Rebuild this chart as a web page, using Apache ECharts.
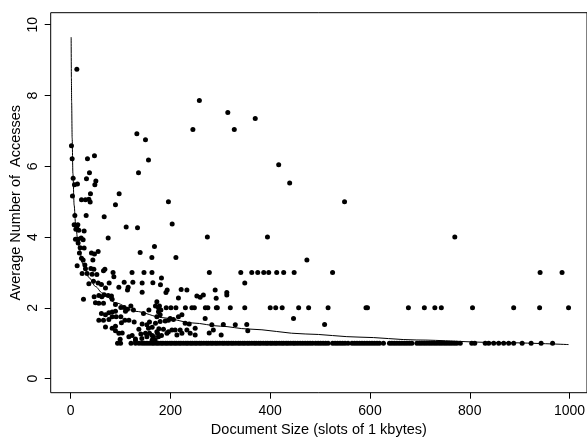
<!DOCTYPE html>
<html>
<head>
<meta charset="utf-8">
<script src="https://cdn.jsdelivr.net/npm/echarts@6/dist/echarts.min.js"></script>
<style>
html,body{margin:0;padding:0;background:#fff;}
#chart{width:587px;height:439px;}
</style>
</head>
<body>
<div id="chart"></div>
<script>
// Axis tick labels
const xTicks = [0, 200, 400, 600, 800, 1000];
const yTicks = [0, 2, 4, 6, 8, 10];

// Documents whose average number of accesses is exactly 1, 2, 3 (x = size)
const row1X = [94, 100, 121, 130, 137, 143, 148, 153, 158,
  163,167,172,176,181,185,190,194,199,203,208,212,217,221,226,231,235,240,244,249,253,258,262,267,272,276,281,285,290,294,299,304,308,313,317,322,326,331,336,340,345,349,354,358,363,368,372,377,381,386,391,395,400,404,409,413,418,423,427,432,436,441,446,450,455,460,
  465,470,475,480,485, 491,496,501,506,511,516, 525,530,535,540,545,550,556,
  564,569,574,579,584,589,594,599,604,609,614,619, 627,
  639,644,649,654,659,664,669,674,679,684,
  694,699,704,709,714,719,724,729,734,739,744,749,754,759,764,769,774,
  781, 804, 810, 831, 838, 848, 858, 868, 878, 888, 905, 923, 943, 966];
const row2X = [176, 191.5, 201, 211, 230, 243, 248, 270, 275, 292, 294, 320, 349, 400, 411, 424, 457, 477, 516, 592, 595, 677, 709, 730, 743, 805.5, 888, 940, 998];
const row3X = [85, 123, 147, 163, 278, 341, 363, 375, 387, 397, 413, 427, 448, 525, 941, 985];

// Other documents [size, average accesses]
const upperPts = [[12.4,8.74],[1.6,6.58],[3.0,6.21],[5.0,5.66],[7.6,5.48],[13.6,5.50],[3.6,5.16],[8.4,4.61],[33.7,6.21],[47.7,6.30],[37.7,5.82],[31.7,5.65],[50.5,5.58],[48.5,5.48],[39.7,5.22],[21.7,5.05],[29.7,5.05],[36.5,5.07],[39.1,4.99],[31.1,4.61],[67.2,4.57],[89.8,4.91],[97.2,5.22],[132.7,6.92],[150,6.75],[136,5.82],[156,6.18],[196,5.0],[245,7.04],[258,7.86],[315,7.52],[328,7.04],[370,7.35],[417,6.04],[439,5.53],[549,5.0],
  [770,4.0],[274,4.0],[394.5,4.0],[203.5,4.37],[111.3,4.28],[134,4.26],[139.3,3.56],[168,3.73],[162.8,3.42],[211,3.42],[473.5,3.35]];
const clusterPts = [[7.0,4.35],[14.4,4.35],[12.4,4.24],[16.4,4.19],[10.4,4.22],[27,4.17],[75.2,3.97],[9.6,3.94],[15,3.94],[21,3.97],[25,3.92],[15,3.83],[19,3.70],[27,3.69],[17.6,3.55],[41.7,3.55],[47.7,3.52],[55.1,3.59],[21.7,3.40],[25,3.35],[44.5,3.35],[13,3.19],[28.5,3.21],[29.7,3.10],[40.5,3.11],[46.5,3.09],[68.6,3.09],[23,2.97],[33,2.97],[43,2.95],[52.5,2.94],
  [65.8,3.05],[86.6,2.88],[36.5,2.68],[45.7,2.75],[55.1,2.70],[61.7,2.66],[69.8,2.56],[77.2,2.70],[96.6,2.58],[107.3,2.72],[115.3,2.58],[124.7,2.72],[143.3,2.70],[164.8,2.71],[180,2.65],[113.9,2.50],[143.3,2.44],[25.7,2.24],[47.1,2.31],[56.5,2.35],[62.5,2.31],[67.2,2.37],[75.2,2.35],[81.8,2.33],[83.2,2.24],[49.7,2.14],[56.5,2.13],[65.8,2.13],[89.8,2.09],[100.6,2.01],[107.3,2.01],[109.9,1.90],[113.9,1.96],[120.7,2.05],[125.9,1.94],[146,1.84],[156.8,1.94],[170,2.05],[178,2.05],[180.8,1.94],[61.7,1.84],[69.8,1.80],[76.6,1.86],[83.2,1.88],[89.8,1.90],[56.5,1.65],[65.8,1.65],[76.6,1.67],[83.2,1.75],[91.2,1.75],[100.6,1.75],[69.8,1.46],[83.2,1.42],[89.8,1.48],[101.8,1.58],[108.7,1.65],[116.7,1.65],[127.3,1.60],[89.8,1.35],[96.6,1.28],[103.3,1.29],[99.2,1.11],[116.7,1.18],[123.3,1.22],[129.9,1.12],[136.7,1.39],[143.3,1.54],[152.8,1.52],[158,1.60],[163.4,1.45],[170,1.56],[176.8,1.41],[140.7,1.26],[150,1.28],[158,1.28],[163.4,1.22],[174,1.28],[182,1.22],[129.9,1.07],[163.4,1.09]];
const midPts = [[191,2.43],[193.5,2.50],[216,2.28],[233,2.50],[253,2.33],[259.6,2.30],[266,2.36],[289.7,2.50],[291.7,2.27],[313,2.43],[313,2.36],[172.8,2.17],[176,1.89],[179.4,1.80],[172.8,1.75],[179.4,1.61],[189.5,1.63],[196,1.65],[199.5,1.70],[206,1.67],[216,1.75],[223,1.80],[229.5,1.56],[237.6,1.54],[269.6,1.70],[283,1.52],[306,1.53],[330,1.52],[353,1.53],[355,1.35],[156,1.42],[172.8,1.32],[176,1.18],[186,1.39],[193,1.28],[196,1.32],[203,1.37],[209.5,1.37],[213,1.23],[219.5,1.37],[223,1.28],[233,1.37],[239.6,1.28],[249.6,1.42],[249.6,1.23],[277.7,1.29],[286,1.37],[301.7,1.23],[142.7,1.13],[152.8,1.18],[166,1.18],[169.4,1.09],
  [446.7,1.70],[509,1.53],[349,2.70],[182,2.84],[221.5,2.52]];

// Fitted curve
const fitX = [1, 1.5, 2, 3, 4.5, 7, 10, 15, 25, 37, 50, 63, 90, 130, 185, 245, 300, 356, 470, 580, 694, 850, 998];
const fitY = [9.65, 8.5, 7.8, 6.8, 5.8, 4.9, 4.35, 3.8, 3.22, 2.85, 2.6, 2.42, 2.14, 1.9, 1.72, 1.57, 1.48, 1.40, 1.26, 1.17, 1.09, 1.02, 0.96];

const scatterData = []
  .concat(row1X.map(x => [x, 1]))
  .concat(row2X.map(x => [x, 2]))
  .concat(row3X.map(x => [x, 3]))
  .concat(upperPts, clusterPts, midPts);
const fitData = fitX.map((x, i) => [x, fitY[i]]);

const FONT = 'Liberation Sans, Arial, Helvetica, sans-serif';
const chart = echarts.init(document.getElementById('chart'), null, {renderer: 'canvas'});
chart.setOption({
  animation: false,
  backgroundColor: '#fff',
  grid: {left: 50.7, top: 12.7, width: 536.3, height: 380, show: true, borderColor: '#000', borderWidth: 1,
         backgroundColor: 'transparent', containLabel: false, outerBoundsMode: 'none'},
  xAxis: {
    type: 'value', min: -40, max: 1035,
    name: 'Document Size (slots of 1 kbytes)', nameLocation: 'middle', nameGap: 30, nameMoveOverlap: false,
    nameTextStyle: {fontFamily: FONT, fontSize: 14.5, color: '#000'},
    axisLine: {show: false, onZero: false},
    axisTick: {show: true, inside: false, length: 6, lineStyle: {color: '#000', width: 1}, customValues: xTicks},
    axisLabel: {show: true, margin: 11, fontFamily: FONT, fontSize: 14, color: '#000', customValues: xTicks,
                formatter: v => String(v)},
    splitLine: {show: false}
  },
  yAxis: {
    type: 'value', min: -0.40, max: 10.34,
    name: 'Average Number of  Accesses', nameLocation: 'middle', nameGap: 27, nameMoveOverlap: false,
    nameTextStyle: {fontFamily: FONT, fontSize: 14.5, color: '#000'},
    axisLine: {show: false, onZero: false},
    axisTick: {show: true, inside: false, length: 6, lineStyle: {color: '#000', width: 1}, customValues: yTicks},
    axisLabel: {show: true, margin: 11, rotate: 90, fontFamily: FONT, fontSize: 14, color: '#000', customValues: yTicks,
                formatter: v => String(v)},
    splitLine: {show: false}
  },
  series: [
    {type: 'scatter', data: scatterData, symbol: 'circle', symbolSize: 5,
     itemStyle: {color: '#000', opacity: 1}, silent: true},
    {type: 'line', data: fitData, showSymbol: false, smooth: 0.3, smoothMonotone: 'x',
     lineStyle: {color: '#000', width: 1}, silent: true}
  ]
});
</script>
</body>
</html>
